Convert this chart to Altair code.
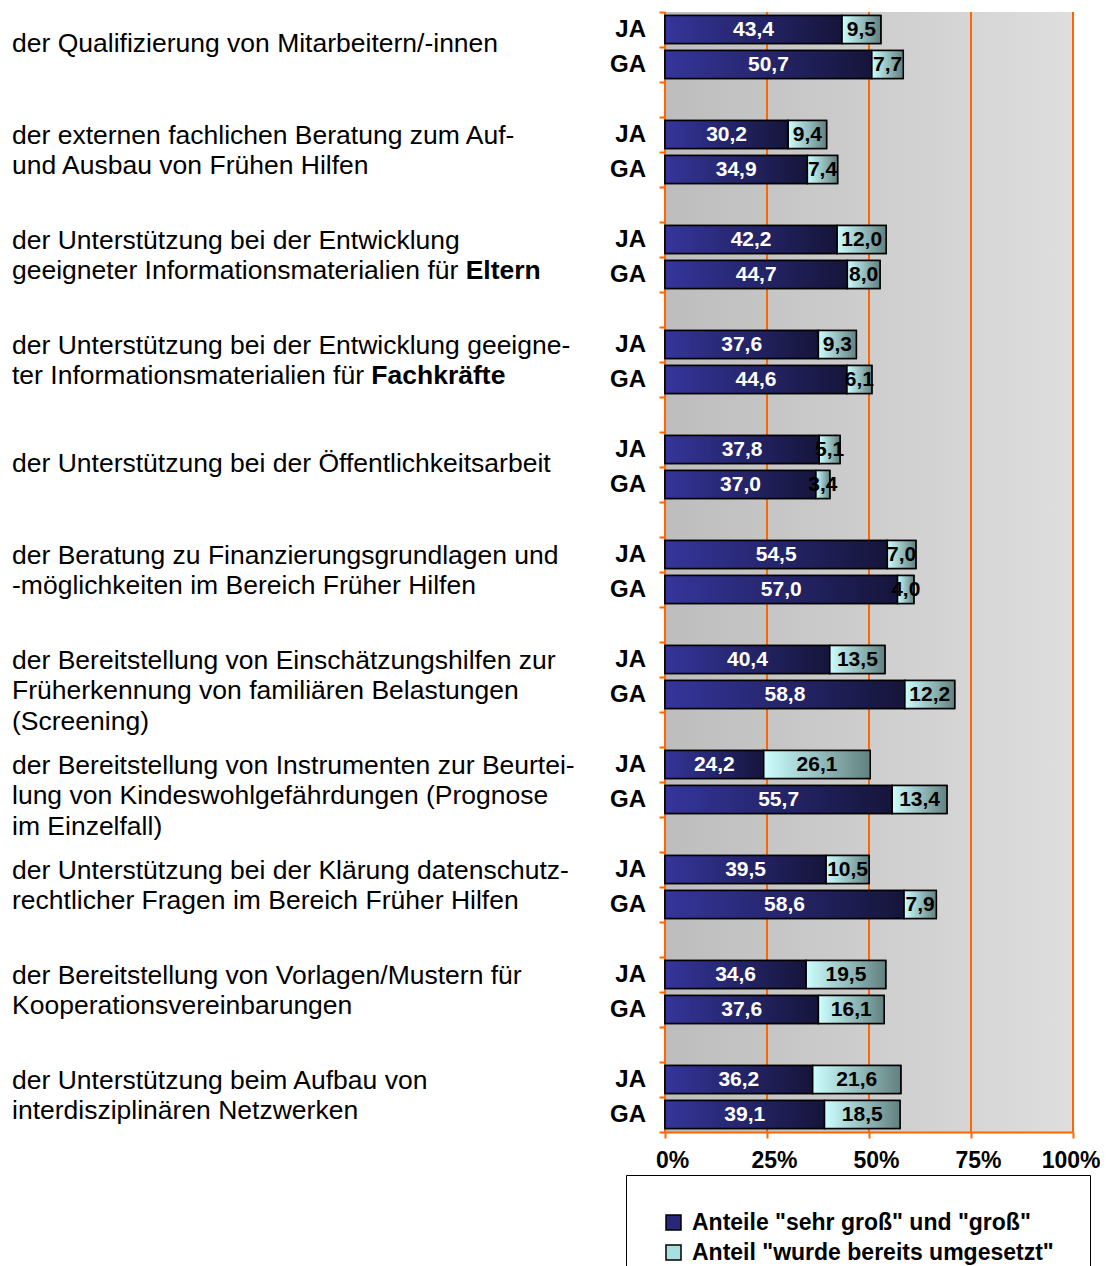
import altair as alt
import pandas as pd

# ---------------- data ----------------
categories = [
    "der Qualifizierung von Mitarbeitern/-innen",
    "der externen fachlichen Beratung zum Auf-\nund Ausbau von Frühen Hilfen",
    "der Unterstützung bei der Entwicklung\ngeeigneter Informationsmaterialien für **Eltern**",
    "der Unterstützung bei der Entwicklung geeigne-\nter Informationsmaterialien für **Fachkräfte**",
    "der Unterstützung bei der Öffentlichkeitsarbeit",
    "der Beratung zu Finanzierungsgrundlagen und\n-möglichkeiten im Bereich Früher Hilfen",
    "der Bereitstellung von Einschätzungshilfen zur\nFrüherkennung von familiären Belastungen\n(Screening)",
    "der Bereitstellung von Instrumenten zur Beurtei-\nlung von Kindeswohlgefährdungen (Prognose\nim Einzelfall)",
    "der Unterstützung bei der Klärung datenschutz-\nrechtlicher Fragen im Bereich Früher Hilfen",
    "der Bereitstellung von Vorlagen/Mustern für\nKooperationsvereinbarungen",
    "der Unterstützung beim Aufbau von\ninterdisziplinären Netzwerken",
]
groups = ["JA", "GA"]
ja_high = [43.4, 30.2, 42.2, 37.6, 37.8, 54.5, 40.4, 24.2, 39.5, 34.6, 36.2]
ja_done = [9.5, 9.4, 12.0, 9.3, 5.1, 7.0, 13.5, 26.1, 10.5, 19.5, 21.6]
ga_high = [50.7, 34.9, 44.7, 44.6, 37.0, 57.0, 58.8, 55.7, 58.6, 37.6, 39.1]
ga_done = [7.7, 7.4, 8.0, 6.1, 3.4, 4.0, 12.2, 13.4, 7.9, 16.1, 18.5]
series = ['Anteile "sehr groß" und "groß"', 'Anteil "wurde bereits umgesetzt"']
x_ticks = [0, 25, 50, 75, 100]

# ---------------- styling ----------------
FONT = "Liberation Sans"
ORANGE = "#ff6600"
CAT_SIZE = 26.5
LABEL_X = -653
N_SLOTS = 3 * len(categories) - 1

# Arial / Liberation Sans advance widths (per 1000 em) for measuring prefixes
AW = {' ': 278, 'a': 556, 'b': 556, 'c': 500, 'd': 556, 'e': 556, 'f': 278, 'g': 556,
      'h': 556, 'i': 222, 'j': 222, 'k': 500, 'l': 222, 'm': 833, 'n': 556, 'o': 556,
      'p': 556, 'q': 556, 'r': 333, 's': 500, 't': 278, 'u': 556, 'v': 500, 'w': 722,
      'x': 500, 'y': 500, 'z': 500, 'ü': 556, 'ä': 556, 'ö': 556, 'I': 278, '-': 333}


def text_width(s, size):
    return sum(AW.get(c, 556) for c in s) * size / 1000.0


rows = []
for i in range(len(categories)):
    pairs = [(ja_high[i], ja_done[i]), (ga_high[i], ga_done[i])]
    for g, (hi, dn) in enumerate(pairs):
        slot = 3 * i + g
        rows.append(dict(slot=slot, group=groups[g], s=0, series=series[0], v=hi, start=0.0, end=hi))
        rows.append(dict(slot=slot, group=groups[g], s=1, series=series[1], v=dn, start=hi, end=hi + dn))
bars = pd.DataFrame(rows)

# category label lines
line_rows = []
bold_rows = []
for i, cat in enumerate(categories):
    lines = cat.split("\n")
    n = len(lines)
    for k, ln in enumerate(lines):
        cls = "single" if n == 1 else f"l{k}"
        if "**" in ln:
            pre, bold, _ = ln.split("**")
            line_rows.append(dict(slot=3 * i, cls=cls, text=pre.rstrip()))
            bold_rows.append(dict(slot=3 * i, cls=cls, text=bold,
                                  off=text_width(pre, CAT_SIZE)))
        else:
            line_rows.append(dict(slot=3 * i, cls=cls, text=ln))
lines_df = pd.DataFrame(line_rows)

Y = alt.Y(
    "slot:O",
    scale=alt.Scale(domain=list(range(N_SLOTS)), paddingInner=0, paddingOuter=0),
    axis=alt.Axis(labels=False, title=None, ticks=True, tickBand="extent",
                  tickColor=ORANGE, tickWidth=2, tickSize=6,
                  domain=False, grid=False, zindex=1),
)
XSCALE = alt.Scale(domain=[0, 100], nice=False)
LAST = x_ticks[-1]
XAXIS = alt.Axis(values=x_ticks, labelExpr="datum.value + '%'", title=None,
                 grid=False, domainColor=ORANGE, domainWidth=2,
                 tickColor=ORANGE, tickWidth=2, tickSize=6,
                 labelFont=FONT, labelFontSize=23, labelFontWeight="bold",
                 labelColor="black", labelPadding=11,
                 labelAlign={"condition": {"test": f"datum.value == {LAST}", "value": "right"},
                             "value": "center"},
                 labelOffset={"condition": {"test": f"datum.value == {LAST}", "value": 27},
                              "value": 7},
                 labelFlush=False, labelOverlap=False, zindex=1)


def xenc(field):
    return alt.X(field, scale=XSCALE, axis=XAXIS, title=None)


def grad(c0, c1):
    return {"gradient": "linear", "x1": 0, "x2": 1, "y1": 0, "y2": 0,
            "stops": [{"offset": 0, "color": c0}, {"offset": 1, "color": c1}]}


BAR_H = alt.RelativeBandSize(0.8)

bg = alt.Chart(pd.DataFrame({"lo": [x_ticks[0]], "hi": [x_ticks[-1]]})).mark_rect(
    fill=grad("#bdbdbd", "#dedede")
).encode(x=xenc("lo:Q"), x2="hi:Q")

grid = alt.Chart(pd.DataFrame({"t": x_ticks})).mark_rule(color=ORANGE, strokeWidth=2).encode(
    x=xenc("t:Q")
)

base = alt.Chart(bars).mark_bar(height=BAR_H, stroke="black", strokeWidth=1.5).encode(
    y=Y, x=xenc("start:Q"), x2="end:Q",
    color=alt.Color(
        "series:N",
        scale=alt.Scale(domain=series, range=["#28287a", "#a8e0e0"]),
        legend=alt.Legend(
            title=None, orient="none", legendX=-39, legendY=1163, direction="vertical",
            labelFont=FONT, labelFontSize=23, labelFontWeight="bold", labelColor="black",
            labelLimit=800, symbolType="square", symbolSize=225, symbolOpacity=1,
            symbolStrokeColor="black", symbolStrokeWidth=1.5, labelOffset=7,
            rowPadding=6, padding=36, strokeColor="black", fillColor="white",
        ),
    ),
)

dark = alt.Chart(bars).transform_filter(alt.datum.s == 0).mark_bar(
    height=BAR_H, fill=grad("#35359c", "#15153a"), stroke="black", strokeWidth=1.5
).encode(y=Y, x=xenc("start:Q"), x2="end:Q")

light = alt.Chart(bars).transform_filter(alt.datum.s == 1).mark_bar(
    height=BAR_H, fill=grad("#ccffff", "#628080"), stroke="black", strokeWidth=1.5
).encode(y=Y, x=xenc("start:Q"), x2="end:Q")

values = alt.Chart(bars).transform_calculate(
    mid="(datum.start + datum.end) / 2",
    lab="replace(format(datum.v, '.1f'), '.', ',')",
).mark_text(font=FONT, fontSize=21, fontWeight="bold", baseline="middle", align="center").encode(
    y=Y,
    x=xenc("mid:Q"),
    text="lab:N",
    color=alt.condition(alt.datum.s == 0, alt.value("white"), alt.value("black")),
)

group_lbl = alt.Chart(bars).transform_filter(alt.datum.s == 0).mark_text(
    font=FONT, fontSize=24, fontWeight="bold", align="right", baseline="middle", color="black"
).encode(y=Y, x=alt.value(-19), text="group:N")

dy_map = {"single": 14, "l0": 1.5, "l1": 31.5, "l2": 62}
cat_layers = []
for cls, dy in dy_map.items():
    cat_layers.append(
        alt.Chart(lines_df).transform_filter(alt.datum.cls == cls).mark_text(
            font=FONT, fontSize=CAT_SIZE, align="left", baseline="middle", color="black", dy=dy
        ).encode(y=Y, x=alt.value(LABEL_X), text="text:N")
    )
for b in bold_rows:
    bdf = pd.DataFrame([b])
    cat_layers.append(
        alt.Chart(bdf).mark_text(
            font=FONT, fontSize=CAT_SIZE, fontWeight="bold", align="left", baseline="middle",
            color="black", dy=dy_map[b["cls"]]
        ).encode(y=Y, x=alt.value(LABEL_X + b["off"]), text="text:N")
    )

chart = alt.layer(bg, grid, base, dark, light, values, group_lbl, *cat_layers).properties(
    width=408, height=35 * N_SLOTS,
    padding={"left": 4, "top": 3, "right": 0, "bottom": 0},
).configure_view(strokeWidth=0)

chart.save("out.html", embed_options={"renderer": "svg", "actions": False})
